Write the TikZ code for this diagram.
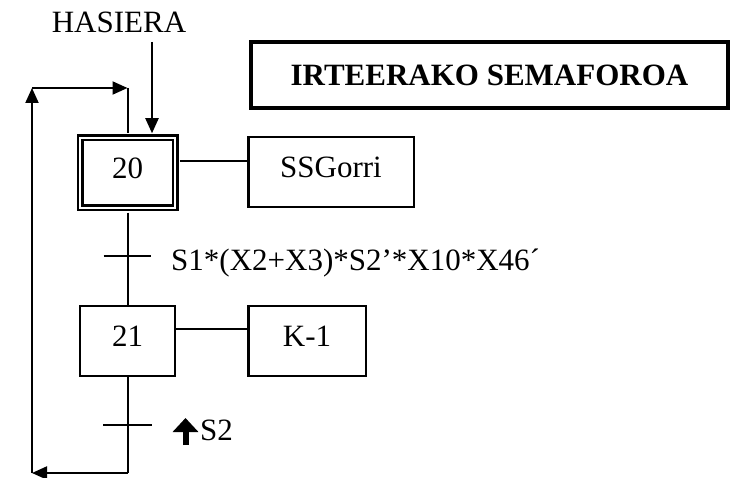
\documentclass[tikz,border=0pt]{standalone}
\usepackage{fontspec}
\setmainfont{Liberation Serif}
\usetikzlibrary{arrows.meta}

\tikzset{
  etapa/.style={draw, line width=2.5pt, inner sep=0pt, minimum width=95pt, minimum height=70pt, text depth=10pt},
  ekintza/.style={draw, line width=2.5pt, inner sep=0pt, minimum height=70pt, text depth=10pt},
  lotura/.style={line width=2pt},
  gezia/.style={line width=2pt, -{Triangle[length=15pt,width=13pt]}},
  baldintza/.style={anchor=base west, inner sep=0pt}
}

\begin{document}
\begin{tikzpicture}[x=1pt,y=1pt,font=\fontsize{31}{37}\selectfont]
\useasboundingbox (0,0) rectangle (731,477);

% Izenburua
\node[draw, line width=4pt, inner sep=0pt, minimum width=477pt, minimum height=66pt,
      font=\fontsize{31}{37}\selectfont\bfseries] (izenburua) at (489.5,402) {IRTEERAKO SEMAFOROA};

% Etapak eta ekintzak
\node[etapa, double, double distance=2pt] (e20) at (127.5,304) {20};
\node[etapa] (e21) at (127.5,136) {21};
\node[ekintza, minimum width=165.5pt] (a20) at (331,305) {SSGorri};
\node[ekintza, minimum width=117.5pt] (a21) at (307,136) {K-1};

% Hasiera
\node[anchor=base, inner sep=0pt] (hasiera) at (119,444) {HASIERA};
\coordinate (sarrera) at ([shift={(24.5pt,3.5pt)}]e20.north);
\draw[gezia] (sarrera |- 0,435) -- (sarrera);

% Etapa-ekintza loturak
\coordinate (l20) at ([shift={(3.5pt,12pt)}]e20.east);
\coordinate (l21) at ([yshift=12pt]e21.east);
\draw[lotura] (l20) -- (l20 -| a20.west);
\draw[lotura] (l21) -- (l21 -| a21.west);

% Lehen trantsizioa
\draw[lotura] ([yshift=-3.5pt]e20.south) -- (e21.north);
\coordinate (t1) at (127.5,221);
\draw[lotura] ([xshift=-24pt]t1) -- ([xshift=23pt]t1);
\node[baldintza] (b1) at (171,206) {S1*(X2+X3)*S2’*X10*X46´};

% Bigarren trantsizioa
\coordinate (t2) at (127.5,52);
\draw[lotura] ([xshift=-24.5pt]t2) -- ([xshift=24.5pt]t2);
\node[baldintza] (b2) at (200,37) {S2};
\draw[line width=6pt, -{Triangle[length=14pt,width=25pt]}] ([shift={(-14.5pt,-5pt)}]b2.base west) -- ++(0,27);

% Itzulera
\coordinate (k1) at (e21.south |- 0,4);
\coordinate (k2) at (32,4);
\coordinate (k3) at (32,389);
\coordinate (k4) at (e20.north |- 0,389);
\draw[lotura] (e21.south) -- (k1);
\draw[gezia] (k1) -- (k2);
\draw[gezia] (k2) -- (k3);
\draw[gezia] (k3) -- (k4);
\draw[lotura] (k4) -- ([yshift=3.5pt]e20.north);

\end{tikzpicture}
\end{document}
